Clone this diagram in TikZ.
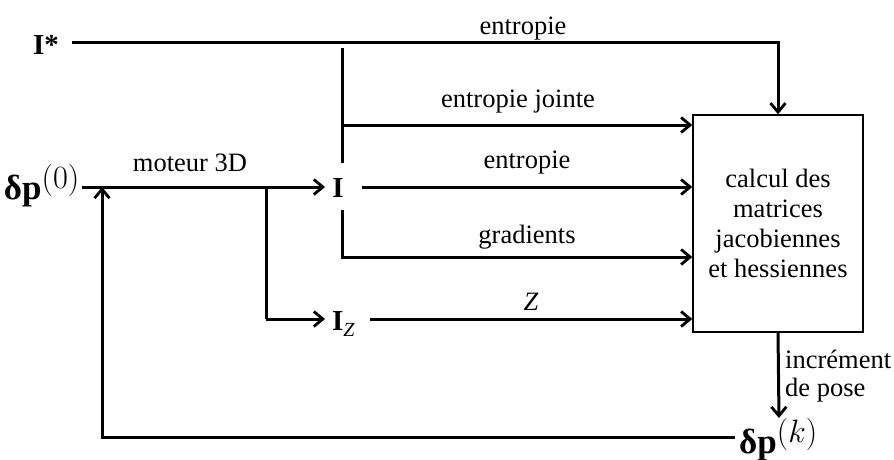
\documentclass[tikz,border=0pt]{standalone}
\usepackage{fontspec}
\setmainfont{Liberation Serif}
\usetikzlibrary{arrows.meta}
\newcommand{\bigsup}[1]{^{\scalebox{1.3}{$\scriptstyle(#1)$}}}
\begin{document}
\begin{tikzpicture}[x=1pt,y=-1pt,
  conn/.style={line width=3pt},
  arr/.style={conn,-{Straight Barb[length=9pt,width=15pt,line width=2.8pt]}},
  lbl/.style={font=\fontsize{26.5}{30}\selectfont, inner sep=0pt},
  sym/.style={font=\fontsize{29}{32}\selectfont, inner sep=0pt},
  bigsym/.style={font=\fontsize{35}{38}\selectfont, inner sep=0pt}]
\useasboundingbox (0,0) rectangle (894,460);
% nodes
\node[sym] (Istar) at (46,45) {\textbf{I*}};
\node[bigsym, anchor=base east] (dp0) at (80,199) {{\bfseries δ}$\mathbf{p}\bigsup{0}$};
\node[sym, anchor=base] (I) at (338,197) {\textbf{I}};
\node[sym, anchor=base west] (IZ) at (332,330) {\textbf{I}{\fontsize{20}{22}\selectfont\raisebox{-6pt}{\itshape Z}}};
\node[draw, line width=1.4pt, minimum width=170pt, minimum height=217pt, align=center,
      font=\fontsize{26.5}{30}\selectfont] (box) at (778,223.5)
      {calcul des\\matrices\\jacobiennes\\et hessiennes};
\node[bigsym, anchor=base west] (dpk) at (739,453) {{\bfseries δ}$\mathbf{p}\bigsup{k}$};
\coordinate (s1) at (72,43);
\coordinate (t1) at (342,48);
\coordinate (t2) at (342,257);
\coordinate (j1) at (342,125);
\coordinate (b1) at (266,187);
\coordinate (f1) at (102,437);
% connectors
\draw[arr] (s1) -- (box.north |- s1) -- (box.north);
\draw[conn] (t1) -- (342,163);
\draw[arr] (342,210) -- (t2) -- (box.west |- t2);
\draw[arr] (j1) -- (box.west |- j1);
\draw[arr] (82,187) -- (325,187);
\draw[conn] (b1) -- (266,319);
\draw[arr] (266,319) -- (325,319);
\draw[arr] (362,187) -- (box.west |- 0,187);
\draw[arr] (370,319) -- (box.west |- 0,319);
\draw[arr] (box.south) -- (779,418);
\draw[arr] (735,437) -- (f1) -- (102,187);
% labels
\node[lbl] at (523,29) {entropie};
\node[lbl] at (518,102) {entropie jointe};
\node[lbl] at (527,163) {entropie};
\node[lbl] at (527,237) {gradients};
\node[lbl] at (531,302) {\itshape Z};
\node[lbl] at (190,163) {moteur 3D};
\node[lbl, anchor=base west, align=left] at (785,368) {incrément};
\node[lbl, anchor=base west, align=left] at (785,396) {de pose};
\end{tikzpicture}
\end{document}
